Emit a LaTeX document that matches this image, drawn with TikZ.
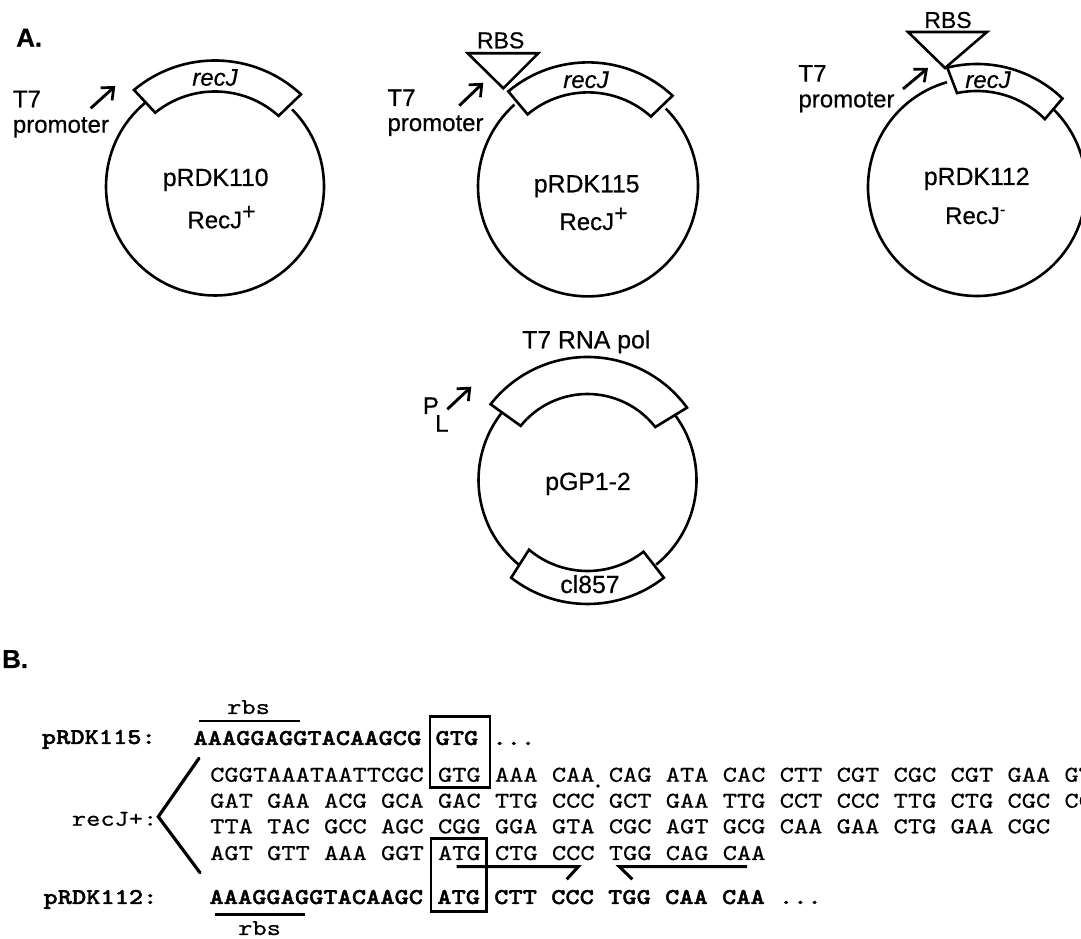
\documentclass[tikz,border=0pt]{standalone}
\usepackage{fontspec}
\setmainfont{Liberation Sans}[FakeBold=0.5]
\setmonofont{lmmono10-regular.otf}[BoldFont=lmmonolt10-bold.otf, FakeStretch=1.2, FakeBold=0.6, BoldFeatures={FakeBold=1.6}]
\usetikzlibrary{arrows.meta}

\newcommand{\maisum}{\textsuperscript{\fontsize{23}{23}\selectfont +}}

\begin{document}
\begin{tikzpicture}[
      x=1pt, y=1pt,
      traco/.style={line width=2.6pt, line join=miter},
      seta/.style={-{Straight Barb[length=10pt, width=17pt, line width=2.7pt]}, line width=2.9pt},
      meia/.style={line width=3pt},
      caixa/.style={draw, line width=2.7pt, inner sep=0pt},
      rotulo/.style={anchor=base, inner sep=0pt, font=\fontsize{24.8}{24.8}\selectfont},
      texto/.style={anchor=base west, inner sep=0pt, font=\fontsize{24}{24}\selectfont},
      titulo/.style={anchor=base west, inner sep=0pt, font=\fontsize{26}{26}\selectfont\bfseries},
      seq/.style={anchor=base west, inner sep=0pt, font=\fontsize{22.6}{22.6}\selectfont\ttfamily},
      seqb/.style={seq, font=\fontsize{22.6}{22.6}\selectfont\ttfamily\bfseries}
    ]
    \clip (0,0) rectangle (1081,939);

    \coordinate (c110) at (215,752.5);
    \coordinate (c115) at (588,752.6);
    \coordinate (c112) at (977,752);
    \coordinate (cgp) at (587.5,459);

    \node[titulo] (painelA) at (16,892.3) {A.};
    \node[titulo] (painelB) at (2,271) {B.};

    % pRDK110
    \draw[traco] ([shift={(130:109)}]c110) arc[start angle=130, end angle=405, radius=109];
    \draw[traco, fill=white] ([shift={(130:126)}]c110) arc[start angle=130, end angle=47, radius=126]
      -- ([shift={(48:95)}]c110) arc[start angle=48, end angle=129, radius=95] -- cycle;
    \node[rotulo, font=\fontsize{24}{24}\selectfont\itshape] (g110) at (215,853.3) {recJ};
    \node[rotulo] (n110) at (215.7,753) {pRDK110};
    \node[texto] (f110) at (187.3,710.7) {RecJ\maisum};
    \node[texto] (t110) at (12.7,831.7) {T7};
    \node[texto] (pr110) at (12.7,806.3) {promoter};
    \coordinate (a110) at (90.7,830.7);
    \coordinate (b110) at (115.3,853);
    \draw[seta] (a110) -- (b110);

    % pRDK115
    \draw[traco] ([shift={(132:110)}]c115) arc[start angle=132, end angle=405, radius=110];
    \draw[traco, fill=white] ([shift={(130:124)}]c115) arc[start angle=130, end angle=47, radius=124]
      -- ([shift={(48:94)}]c115) arc[start angle=48, end angle=130, radius=94] -- cycle;
    \draw[traco] (467.7,885.7) -- (538.3,885.7) -- (503.3,850.7) -- cycle;
    \node[rotulo, font=\fontsize{23}{23}\selectfont] (r115) at (500.7,890.7) {RBS};
    \node[rotulo, font=\fontsize{24}{24}\selectfont\itshape] (g115) at (586,851) {recJ};
    \node[rotulo] (n115) at (586.7,746.7) {pRDK115};
    \node[texto] (f115) at (559.3,709) {RecJ\maisum};
    \node[texto] (t115) at (387.3,833) {T7};
    \node[texto] (pr115) at (387.3,808) {promoter};
    \coordinate (a115) at (459.3,833.3);
    \coordinate (b115) at (483.3,856.3);
    \draw[seta] (a115) -- (b115);

    % pRDK112
    \draw[traco] ([shift={(106:109)}]c112) arc[start angle=106, end angle=405, radius=109];
    \draw[traco, fill=white] ([shift={(104:123)}]c112) arc[start angle=104, end angle=46, radius=123]
      -- ([shift={(45:96)}]c112) arc[start angle=45, end angle=102, radius=96] -- cycle;
    \draw[traco] (908,907) -- (987,907) -- (945,871) -- cycle;
    \node[rotulo, font=\fontsize{23}{23}\selectfont] (r112) at (948,911) {RBS};
    \node[rotulo, font=\fontsize{24}{24}\selectfont\itshape] (g112) at (988,851) {recJ};
    \node[rotulo] (n112) at (976.7,754) {pRDK112};
    \node[texto] (f112) at (945,715) {RecJ\textsuperscript{-}};
    \node[texto] (t112) at (798.3,857.3) {T7};
    \node[texto] (pr112) at (798.3,831.7) {promoter};
    \coordinate (a112) at (903,850);
    \coordinate (b112) at (928,871);
    \draw[seta] (a112) -- (b112);

    % pGP1-2
    \draw[traco] ([shift={(141.5:109)}]cgp) arc[start angle=141.5, end angle=231, radius=109];
    \draw[traco] ([shift={(309:109)}]cgp) arc[start angle=309, end angle=396.5, radius=109];
    \draw[traco, fill=white] ([shift={(142:123)}]cgp) arc[start angle=142, end angle=36, radius=123]
      -- ([shift={(38:86)}]cgp) arc[start angle=38, end angle=141, radius=86] -- cycle;
    \draw[traco, fill=white] ([shift={(232:124)}]cgp) arc[start angle=232, end angle=308, radius=124]
      -- ([shift={(308:91)}]cgp) arc[start angle=308, end angle=230, radius=91] -- cycle;
    \node[rotulo] (pol) at (586.3,590.7) {T7 RNA pol};
    \node[rotulo] (ngp) at (588,449) {pGP1-2};
    \node[rotulo] (ci) at (590,346) {cl857};
    \node[texto] (pp) at (422.7,525) {P};
    \node[texto] (pl) at (435,507.3) {L};
    \coordinate (agp) at (447.3,529.7);
    \coordinate (bgp) at (471.3,552.3);
    \draw[seta] (agp) -- (bgp);

    % sequencias
    \node[seq] (rbsa) at (227,225) {rbs};
    \coordinate (rbsa1) at (199.3,218);
    \coordinate (rbsa2) at (300,218);
    \draw[line width=2.6pt] (rbsa1) -- (rbsa2);
    \node[seqb] (s115) at (41.7,195) {pRDK115:};
    \node[seqb] (l115) at (193.3,194) {AAAGGAGGTACAAGCG GTG ...};
    \node[seq] (l1) at (210,157.3) {CGGTAAATAATTCGC GTG AAA CAA CAG ATA CAC CTT CGT CGC CGT GAA GT};
    \node[seq] (l2) at (210,131.3) {GAT GAA ACG GCA GAC TTG CCC GCT GAA TTG CCT CCC TTG CTG CGC CC};
    \node[seq] (l3) at (210,105.7) {TTA TAC GCC AGC CGG GGA GTA CGC AGT GCG CAA GAA CTG GAA CGC};
    \node[seq] (l4) at (210,79) {AGT GTT AAA GGT ATG CTG CCC TGG CAG CAA};
    \node[seq] (srec) at (71.7,113.3) {recJ+:};
    \node[seqb] (s112) at (43.3,35) {pRDK112:};
    \node[seqb] (l112) at (209.3,35) {AAAGGAGGTACAAGC ATG CTT CCC TGG CAA CAA ...};
    \coordinate (rbsb1) at (215,24.3);
    \coordinate (rbsb2) at (305,24.3);
    \draw[line width=2.6pt] (rbsb1) -- (rbsb2);
    \node[seq] (rbsb) at (238,4) {rbs};
    \fill (598,153) circle[radius=1.8pt];

    \coordinate (ch1) at (199,180.7);
    \coordinate (ch2) at (158.3,122.3);
    \coordinate (ch3) at (200,66.3);
    \draw[line width=3.2pt, line cap=round] (ch1) -- (ch2) -- (ch3);

    \draw[caixa] (430,222.3) rectangle (490,151.7);
    \draw[caixa] (431,100.7) rectangle (486.7,27.3);

    \coordinate (m1) at (456.7,72.3);
    \coordinate (m2) at (578.3,72.3);
    \coordinate (m3) at (566.7,59.7);
    \draw[meia] (m1) -- (m2) -- (m3);
    \coordinate (m4) at (747,72.3);
    \coordinate (m5) at (619.3,72.3);
    \coordinate (m6) at (632.4,59.7);
    \draw[meia] (m4) -- (m5) -- (m6);
  \end{tikzpicture}
\end{document}
